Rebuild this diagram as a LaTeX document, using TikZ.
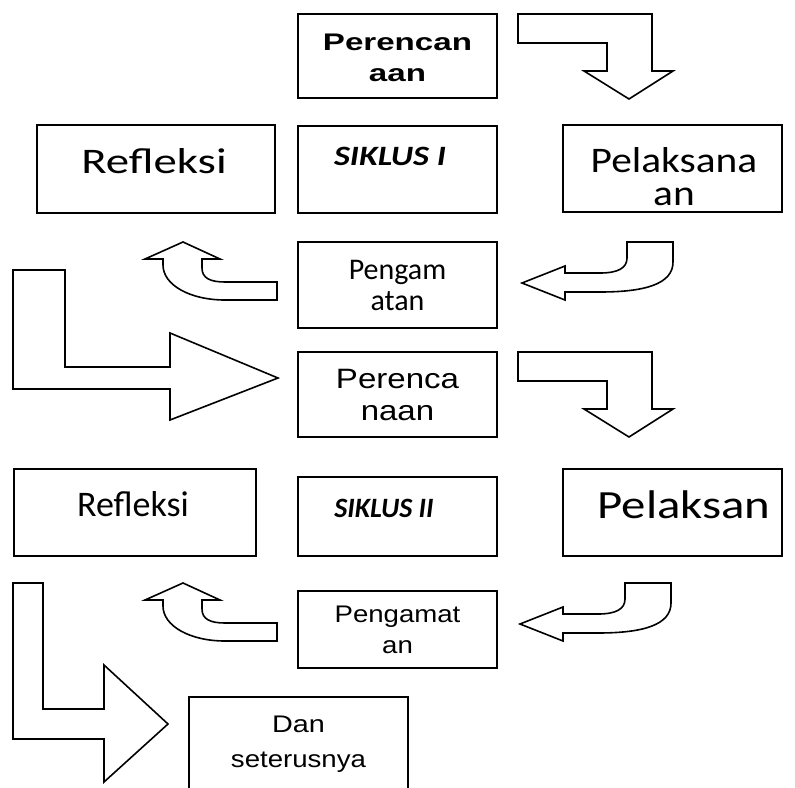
\documentclass[tikz,border=0pt]{standalone}
\usepackage{graphicx}
\usepackage{fontspec}
\setmainfont{Liberation Sans}
\newfontfamily\calibri{Carlito}
\usetikzlibrary{positioning}
% stretch text horizontally
\newcommand{\wide}[2]{\scalebox{#1}[1]{#2}}

\begin{document}
\begin{tikzpicture}[x=1pt, y=-1pt,
    box/.style={draw, line width=1.6pt, rectangle, inner sep=0pt, align=center},
    midbox/.style={box, minimum width=199pt},
    txt/.style={inner sep=0pt, align=center},
    flow/.style={draw, line width=1.6pt, line join=miter}]

    \useasboundingbox (0,0) rectangle (795,787);
    \clip (0,0) rectangle (795,787);

    % siklus I
    \node[midbox, minimum height=84pt] (plan1) at (397.5,56) {};
    \node[box, minimum width=238pt, minimum height=88pt] (refl1) at (156,169) {};
    \node[midbox, minimum height=87pt] (cyc1) at (397.5,169.5) {};
    \node[box, minimum width=219pt, minimum height=87pt] (act1) at (672.5,168.5) {};
    \node[midbox, minimum height=86pt, font=\calibri\fontsize{30}{31}\selectfont] (obs1) at (397.5,285) {Pengam\\atan};
    \node[txt, font=\bfseries\fontsize{24}{31}\selectfont] (plan1-t) at (397.5,58) {\wide{1.38}{Perencan}\\\wide{1.38}{aan}};
    \node[txt, font=\calibri\fontsize{36}{40}\selectfont] (refl1-t) at (154,161) {\wide{1.3}{Refleksi}};
    \node[txt, font=\calibri\bfseries\itshape\fontsize{28}{30}\selectfont] (cyc1-t) at (390,156) {\wide{1.22}{SIKLUS I}};
    \node[txt, font=\calibri\fontsize{36}{33}\selectfont] (act1-t) at (674,177) {\wide{1.15}{Pelaksana}\\\wide{1.15}{an}};

    % siklus II
    \node[midbox, minimum height=85pt, font=\fontsize{28}{32}\selectfont] (plan2) at (397.5,394.5) {\wide{1.18}{Perenca}\\\wide{1.18}{naan}};
    \node[box, minimum width=242pt, minimum height=87pt] (refl2) at (135,512.5) {};
    \node[midbox, minimum height=79pt] (cyc2) at (397.5,516.5) {};
    \node[box, minimum width=219pt, minimum height=87pt] (act2) at (672.5,512.5) {};
    \node[midbox, minimum height=77pt, font=\fontsize{24}{31}\selectfont] (obs2) at (397.5,629.5) {\wide{1.15}{Pengamat}\\\wide{1.15}{an}};
    \node[box, minimum width=219pt, minimum height=108pt] (next) at (298.5,751) {};
    \node[txt, font=\calibri\fontsize{36}{40}\selectfont] (refl2-t) at (133,504) {Refleksi};
    \node[txt, font=\calibri\bfseries\itshape\fontsize{28}{30}\selectfont] (cyc2-t) at (384,508) {SIKLUS II};
    \node[txt, font=\calibri\fontsize{40}{44}\selectfont] (act2-t) at (684,505) {\wide{1.22}{Pelaksan}};
    \node[txt, font=\fontsize{24}{35}\selectfont] (next-t) at (298.5,744) {\wide{1.2}{Dan}\\\wide{1.15}{seterusnya}};

    % panah perencanaan -> pelaksanaan
    \draw[flow] (518,14) -- (652,14) -- (652,71) -- (673,71) -- (629,99) -- (584,71) -- (607,71) -- (607,43) -- (518,43) -- cycle;
    \draw[flow, shift={(0,338)}] (518,14) -- (652,14) -- (652,71) -- (673,71) -- (629,99) -- (584,71) -- (607,71) -- (607,43) -- (518,43) -- cycle;

    % panah pelaksanaan -> pengamatan
    \draw[flow] (673,242) -- (673,262) .. controls (673,284) and (645,292) .. (600,292) -- (565,292) -- (565,300) -- (522,283) -- (565,266) -- (565,273) -- (600,273) .. controls (618,273) and (627,268) .. (627,258) -- (627,242) -- cycle;
    \draw[flow, shift={(-2,341)}] (673,242) -- (673,262) .. controls (673,284) and (645,292) .. (600,292) -- (565,292) -- (565,300) -- (522,283) -- (565,266) -- (565,273) -- (600,273) .. controls (618,273) and (627,268) .. (627,258) -- (627,242) -- cycle;

    % panah pengamatan -> refleksi
    \draw[flow] (183,242) -- (220,259) -- (202,259) -- (202,268) .. controls (202,278) and (210,282) .. (225,282) -- (277,282) -- (277,300) -- (225,300) .. controls (190,300) and (163,285) .. (163,265) -- (163,259) -- (145,259) -- cycle;
    \draw[flow, shift={(0,341)}] (183,242) -- (220,259) -- (202,259) -- (202,268) .. controls (202,278) and (210,282) .. (225,282) -- (277,282) -- (277,300) -- (225,300) .. controls (190,300) and (163,285) .. (163,265) -- (163,259) -- (145,259) -- cycle;

    % panah refleksi -> siklus berikutnya
    \draw[flow] (13,270) -- (65,270) -- (65,367) -- (170,367) -- (170,333) -- (278,378) -- (170,420) -- (170,389) -- (13,389) -- cycle;
    \draw[flow] (13,583) -- (43,583) -- (43,709) -- (104,709) -- (104,665) -- (168,724) -- (104,782) -- (104,739) -- (13,739) -- cycle;

\end{tikzpicture}
\end{document}
